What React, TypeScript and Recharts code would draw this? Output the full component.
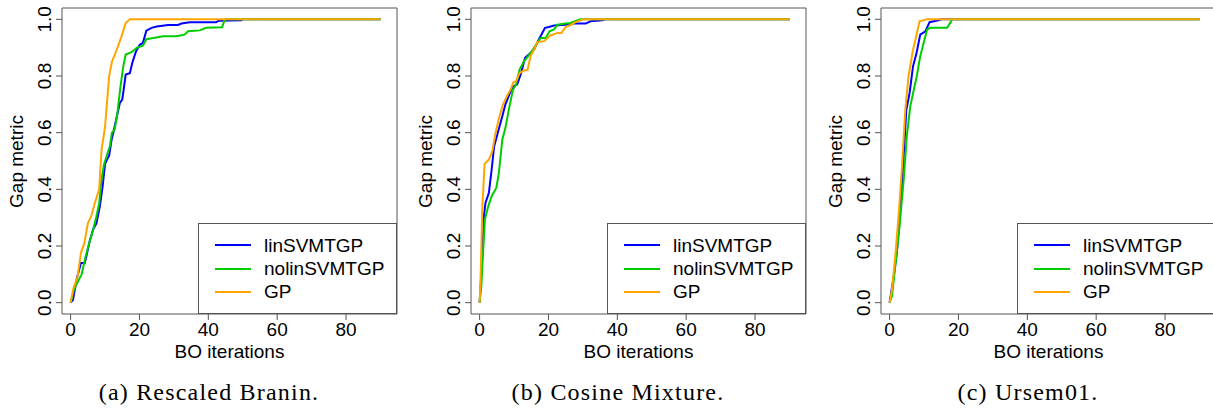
import React from 'react';
import {
  LineChart,
  Line,
  XAxis,
  YAxis,
  Legend,
  ReferenceArea,
} from 'recharts';

// Gap metric vs BO iterations as [iteration, gap]
const braninLin: [number, number][] = [
  [0, 0], [0.7, 0.01], [1.7, 0.08], [3, 0.14], [4.1, 0.14], [4.6, 0.165], [5.6, 0.22],
  [6.6, 0.26], [7.5, 0.28], [8.5, 0.34], [9.3, 0.41], [10, 0.49], [10.6, 0.505], [11.2, 0.52],
  [11.9, 0.575], [12.5, 0.605], [13.3, 0.65], [14.3, 0.705], [15, 0.717], [15.4, 0.75],
  [16, 0.805], [17.2, 0.81], [18, 0.85], [19, 0.887], [20.1, 0.91], [21, 0.917], [22, 0.96],
  [23.5, 0.97], [25, 0.975], [28.3, 0.98], [31.2, 0.98], [32.2, 0.985], [34.6, 0.99],
  [42.3, 0.99], [43, 0.995], [49.6, 0.997], [50, 1], [90, 1],
];
const braninNolin: [number, number][] = [
  [0, 0], [1, 0.047], [2.2, 0.076], [3.2, 0.1], [4.4, 0.165], [5.4, 0.21], [6.6, 0.26],
  [7.5, 0.305], [8.3, 0.35], [9, 0.435], [9.7, 0.488], [10.6, 0.523], [11.4, 0.552], [12, 0.6],
  [12.8, 0.611], [13.6, 0.67], [14.5, 0.764], [15.3, 0.834], [16, 0.876], [17.7, 0.884],
  [19.3, 0.9], [21, 0.907], [22, 0.93], [24, 0.934], [26.9, 0.94], [30.7, 0.94], [33.1, 0.946],
  [34.1, 0.958], [37.5, 0.961], [39.4, 0.97], [44, 0.972], [44.7, 0.997], [45, 1], [90, 1],
];
const braninGP: [number, number][] = [
  [0, 0], [0.8, 0.05], [2, 0.09], [3, 0.176], [4, 0.21], [5, 0.28], [6, 0.305], [7, 0.35],
  [8.3, 0.4], [9, 0.54], [10, 0.62], [11.2, 0.8], [12, 0.85], [13.3, 0.89], [14.8, 0.94],
  [16, 0.987], [17.2, 1], [90, 1],
];

const cosineLin: [number, number][] = [
  [0, 0], [0.6, 0.118], [1.25, 0.305], [1.7, 0.352], [2.7, 0.388], [3.5, 0.47], [4.2, 0.55],
  [5.4, 0.605], [6.6, 0.658], [7.5, 0.7], [8.8, 0.74], [9.9, 0.764], [10.9, 0.77], [11.9, 0.805],
  [13.2, 0.864], [14.3, 0.876], [15.8, 0.893], [17.2, 0.929], [18.2, 0.952], [19, 0.97],
  [20.1, 0.973], [21.6, 0.978], [25, 0.981], [26.9, 0.985], [30.8, 0.985], [32.2, 0.993],
  [35.6, 0.997], [36.5, 1], [90, 1],
];
const cosineNolin: [number, number][] = [
  [0, 0], [0.5, 0.059], [1, 0.176], [1.55, 0.294], [2.5, 0.34], [3.5, 0.376], [4.85, 0.405],
  [5.6, 0.458], [6.6, 0.576], [7.5, 0.617], [8.5, 0.682], [9.7, 0.752], [10.6, 0.77],
  [11.6, 0.823], [12.9, 0.852], [14.1, 0.87], [15.5, 0.893], [16.8, 0.917], [17.7, 0.934],
  [19.2, 0.934], [20.3, 0.958], [21.6, 0.964], [22.6, 0.981], [25, 0.985], [26.4, 0.987],
  [28.9, 0.999], [29.5, 1], [90, 1],
];
const cosineGP: [number, number][] = [
  [0, 0], [0.3, 0.094], [0.8, 0.34], [1.45, 0.49], [2.7, 0.505], [3.7, 0.535], [4.65, 0.6],
  [5.6, 0.65], [6.8, 0.7], [8, 0.73], [9, 0.752], [9.8, 0.778], [10.6, 0.782], [11.6, 0.81],
  [12.9, 0.82], [13.9, 0.82], [14.8, 0.87], [15.8, 0.893], [16.8, 0.92], [18.7, 0.923],
  [20.6, 0.943], [22.6, 0.952], [23.8, 0.952], [25, 0.973], [26.4, 0.98], [27.9, 0.99],
  [29.8, 0.999], [30.5, 1], [90, 1],
];

const ursemLin: [number, number][] = [
  [0, 0], [1.2, 0.094], [2.1, 0.176], [3.1, 0.33], [4.1, 0.517], [4.85, 0.68], [5.8, 0.74],
  [6.8, 0.834], [7.8, 0.88], [8.9, 0.946], [10.4, 0.958], [11.6, 0.99], [14.2, 0.997],
  [15, 1], [90, 1],
];
const ursemNolin: [number, number][] = [
  [0, 0], [0.7, 0.024], [1.65, 0.13], [2.9, 0.27], [4.1, 0.435], [5, 0.588], [6, 0.693],
  [7, 0.75], [7.9, 0.8], [8.9, 0.87], [9.9, 0.917], [10.9, 0.964], [11.8, 0.97], [16.7, 0.97],
  [18.1, 0.998], [18.5, 1], [90, 1],
];
const ursemGP: [number, number][] = [
  [0, 0], [0.7, 0.047], [1.65, 0.165], [2.6, 0.305], [3.6, 0.48], [4.55, 0.68], [5.5, 0.8],
  [6.8, 0.893], [7.5, 0.928], [8.7, 0.993], [10.4, 0.999], [11, 1], [90, 1],
];

const seriesNames = ['linSVMTGP', 'nolinSVMTGP', 'GP'];
const seriesColors = ['#0000FF', '#00CD00', '#FFA500'];
const xTicks = [0, 20, 40, 60, 80];
const yTicks = [0, 0.2, 0.4, 0.6, 0.8, 1.0];
const captions = ['(a) Rescaled Branin.', '(b) Cosine Mixture.', '(c) Ursem01.'];

const panels = [
  { left: 0, caption: captions[0], series: [braninLin, braninNolin, braninGP] },
  { left: 409, caption: captions[1], series: [cosineLin, cosineNolin, cosineGP] },
  { left: 819, caption: captions[2], series: [ursemLin, ursemNolin, ursemGP] },
];

const X_DOMAIN: [number, number] = [-2.5, 94.8];
const Y_DOMAIN: [number, number] = [-0.04, 1.04];
const AXIS_W = 62;
const BOX_W = 335;
const BOX_TOP = 8;
const BOX_H = 306;
const SANS = '"Liberation Sans", Arial, sans-serif';
const SERIF = '"Liberation Serif", "Times New Roman", serif';
const FRAME = '#555';

// y tick labels are rotated like R's default las=0
const RotatedTick = (props: any) => {
  const { x, y, payload } = props;
  return (
    <text
      x={x}
      y={y}
      transform={`rotate(-90 ${x} ${y})`}
      textAnchor="middle"
      fontSize={19}
      fill="#000"
    >
      {Number(payload.value).toFixed(1)}
    </text>
  );
};

const LegendBox = () => (
  <div
    style={{
      boxSizing: 'border-box',
      width: '100%',
      height: '100%',
      border: `1px solid ${FRAME}`,
      background: '#fff',
      paddingTop: 10,
      fontFamily: SANS,
      fontSize: 19,
      color: '#000',
    }}
  >
    {seriesNames.map((name, i) => (
      <div key={name} style={{ display: 'flex', alignItems: 'center', height: 23.3 }}>
        <div style={{ marginLeft: 16, width: 36, height: 2, background: seriesColors[i] }} />
        <span style={{ marginLeft: 13, lineHeight: '19px' }}>{name}</span>
      </div>
    ))}
  </div>
);

function Panel({ left, caption, series }: (typeof panels)[number]) {
  return (
    <div style={{ position: 'absolute', left, top: 0, width: 401, height: 408 }}>
      <LineChart
        width={401}
        height={408}
        margin={{ top: BOX_TOP, right: 4, bottom: 34, left: 0 }}
      >
        <XAxis
          type="number"
          dataKey="x"
          domain={X_DOMAIN}
          ticks={xTicks}
          allowDataOverflow
          height={60}
          axisLine={false}
          tickSize={6}
          tickMargin={3}
          tickLine={{ stroke: FRAME }}
          tick={{ fill: '#000', fontSize: 19 }}
        />
        <YAxis
          type="number"
          dataKey="y"
          domain={Y_DOMAIN}
          ticks={yTicks}
          allowDataOverflow
          width={AXIS_W}
          axisLine={false}
          tickSize={6}
          tickMargin={5}
          tickLine={{ stroke: FRAME }}
          tick={<RotatedTick />}
        />
        <ReferenceArea
          x1={X_DOMAIN[0]}
          x2={X_DOMAIN[1]}
          y1={Y_DOMAIN[0]}
          y2={Y_DOMAIN[1]}
          fill="none"
          stroke={FRAME}
          strokeWidth={1}
          ifOverflow="visible"
        />
        {series.map((pts, i) => (
          <Line
            key={seriesNames[i]}
            data={pts.map(([x, y]) => ({ x, y }))}
            dataKey="y"
            name={seriesNames[i]}
            type="linear"
            stroke={seriesColors[i]}
            strokeWidth={2}
            dot={false}
            activeDot={false}
            isAnimationActive={false}
          />
        ))}
        <Legend
          layout="horizontal"
          verticalAlign="middle"
          align="center"
          content={() => <LegendBox />}
          wrapperStyle={{ left: AXIS_W + 136, top: 222.7, width: 199, height: 91.3 }}
        />
      </LineChart>

      {/* axis titles and sub-caption */}
      <div
        style={{
          position: 'absolute',
          left: AXIS_W + BOX_W / 2 - 100,
          width: 200,
          top: 342.4,
          textAlign: 'center',
          fontFamily: SANS,
          fontSize: 19,
          lineHeight: '19px',
        }}
      >
        BO iterations
      </div>
      <div
        style={{
          position: 'absolute',
          left: AXIS_W - 46.3 - 60,
          width: 120,
          top: BOX_TOP + BOX_H / 2 - 9.5,
          height: 19,
          textAlign: 'center',
          fontFamily: SANS,
          fontSize: 19,
          lineHeight: '19px',
          transform: 'rotate(-90deg)',
          whiteSpace: 'nowrap',
        }}
      >
        Gap metric
      </div>
      <div
        style={{
          position: 'absolute',
          left: AXIS_W + 147 - 150,
          width: 300,
          top: 379.9,
          textAlign: 'center',
          fontFamily: SERIF,
          fontSize: 24,
          lineHeight: '24px',
          letterSpacing: 1.2,
          whiteSpace: 'nowrap',
        }}
      >
        {caption}
      </div>
    </div>
  );
}

export default function App() {
  return (
    <div
      style={{
        position: 'absolute',
        left: 0,
        top: 0,
        width: 1213,
        height: 408,
        overflow: 'hidden',
        background: '#fff',
        fontFamily: SANS,
      }}
    >
      {panels.map((p) => (
        <Panel key={p.caption} {...p} />
      ))}
    </div>
  );
}
